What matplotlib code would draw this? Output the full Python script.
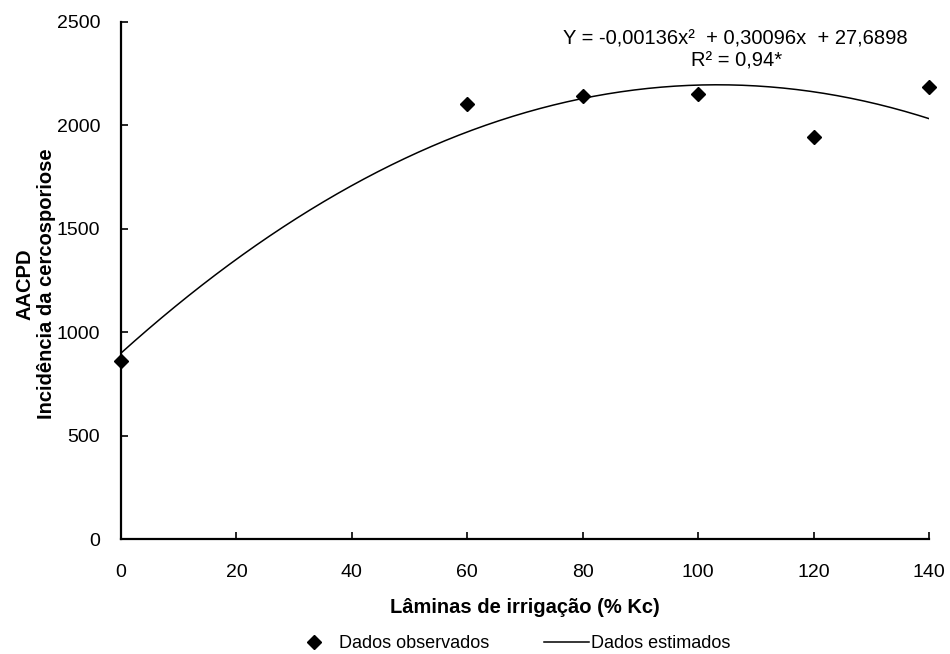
import numpy as np
import matplotlib
matplotlib.use("Agg")
import matplotlib.pyplot as plt

plt.rcParams['font.family'] = ['Liberation Sans', 'DejaVu Sans']

laminas = [0, 60, 80, 100, 120, 140]
aacpd = [861, 2103, 2142, 2150, 1945, 2187]

# quadratic fit (estimated curve)
coef = np.polyfit(laminas, aacpd, 2)
xs = np.linspace(0, 140, 300)
ys = np.polyval(coef, xs)

fig = plt.figure(figsize=(9.5, 6.54), dpi=100)
ax = fig.add_axes([121/950, 1 - 539/654, (929-121)/950, (539-22)/654])

ax.plot(laminas, aacpd, linestyle='none', marker='D', color='black',
        markersize=7.5, label='Dados observados', clip_on=False, zorder=3)
ax.plot(xs, ys, color='black', linewidth=1.1, label='Dados estimados')

ax.set_xlim(0, 140)
ax.set_ylim(0, 2500)
ax.set_xticks(range(0, 141, 20))
ax.set_yticks(range(0, 2501, 500))
for s in ['top', 'right']:
    ax.spines[s].set_visible(False)
for s in ['left', 'bottom']:
    ax.spines[s].set_linewidth(1.6)
ax.tick_params(direction='in', length=5, width=1.2, labelsize=14)
ax.tick_params(axis='y', pad=15)
ax.tick_params(axis='x', pad=18)

ax.set_xlabel('Lâminas de irrigação (% Kc)', fontsize=14.5, fontweight='bold', labelpad=12)
ax.set_ylabel('AACPD\nIncidência da cercosporiose', fontsize=14.5, fontweight='bold',
              linespacing=1.15)
ax.yaxis.set_label_coords(-0.081, 0.493)

ax.text(106.4, 2418, 'Y = -0,00136x²  + 0,30096x  + 27,6898', ha='center', va='center', fontsize=14.5)
ax.text(106.6, 2310, 'R² = 0,94*', ha='center', va='center', fontsize=14.5)

fig.legend(loc='center', bbox_to_anchor=(511/950, 1 - 644/654), ncol=2, frameon=False,
           fontsize=13, handlelength=2.5, columnspacing=3, handletextpad=0.15)

fig.savefig('out.png', dpi=100)
